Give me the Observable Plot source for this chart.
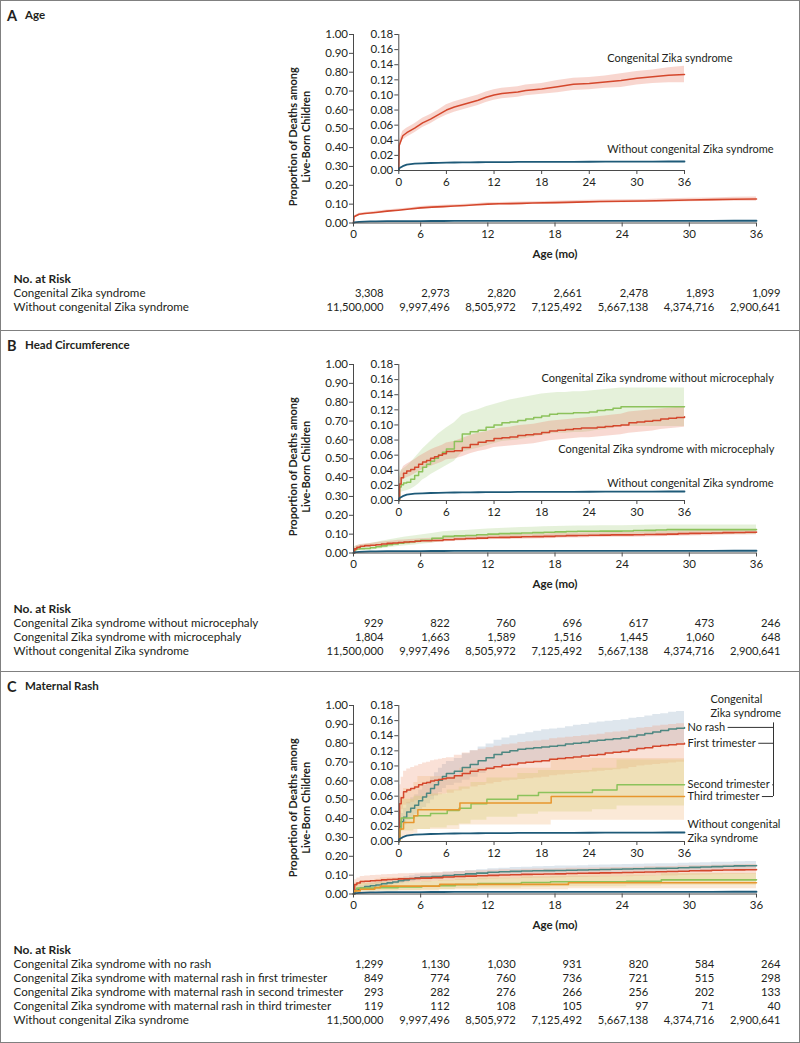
<!DOCTYPE html>
<html><head><meta charset="utf-8">
<script src="https://cdn.jsdelivr.net/npm/d3@7"></script>
<script src="https://cdn.jsdelivr.net/npm/@observablehq/plot@0.6"></script>
<style>
body{margin:0;background:#fff;font-family:Lato,sans-serif;color:#231f20;}
#page{position:relative;width:800px;height:1043px;overflow:hidden;background:#fff;}
.panel{position:absolute;left:0;width:800px;}
.frame{position:absolute;left:0;top:0;right:0;bottom:0;border:1.5px solid #808080;pointer-events:none;box-sizing:border-box;}
.hdr{position:absolute;left:7px;top:5px;white-space:nowrap;}
.hdr .l{font-size:14.5px;font-weight:bold;}
.hdr .t{font-size:11.5px;font-weight:bold;position:absolute;left:18px;top:3px;}
.layer{position:absolute;left:0;}
</style></head><body><div id="page"></div>
<script>
// ---------- tick labels ----------
const months = [0, 6, 12, 18, 24, 30, 36];
const mainTicks = [0, 0.1, 0.2, 0.3, 0.4, 0.5, 0.6, 0.7, 0.8, 0.9, 1.0];
const insetTicks = [0, 0.02, 0.04, 0.06, 0.08, 0.10, 0.12, 0.14, 0.16, 0.18];

// ---------- Panel A (age) ----------
const tA = [0, 0.05, 0.5, 1, 1.5, 2, 3, 4, 5, 6, 7, 8, 9, 10, 11, 12, 13, 14, 15, 16, 18, 20, 22, 24, 26, 28, 30, 32, 34, 36];
const czsAge   = [0, 0.033, 0.046, 0.050, 0.053, 0.056, 0.063, 0.068, 0.074, 0.080, 0.084, 0.087, 0.090, 0.093, 0.097, 0.100, 0.102, 0.103, 0.104, 0.106, 0.108, 0.111, 0.114, 0.115, 0.117, 0.119, 0.122, 0.124, 0.126, 0.127];
const czsAgeLo = [0, 0.028, 0.040, 0.044, 0.047, 0.050, 0.057, 0.062, 0.068, 0.073, 0.077, 0.080, 0.083, 0.086, 0.090, 0.093, 0.095, 0.096, 0.097, 0.099, 0.101, 0.103, 0.106, 0.107, 0.109, 0.110, 0.113, 0.115, 0.116, 0.116];
const czsAgeHi = [0, 0.038, 0.052, 0.056, 0.059, 0.062, 0.069, 0.074, 0.080, 0.087, 0.091, 0.094, 0.097, 0.100, 0.104, 0.107, 0.109, 0.110, 0.111, 0.113, 0.115, 0.119, 0.122, 0.123, 0.125, 0.128, 0.131, 0.133, 0.136, 0.138];
const noCzs    = [0, 0.003, 0.0057, 0.0077, 0.0085, 0.0090, 0.0095, 0.0099, 0.0102, 0.0104, 0.0106, 0.0107, 0.0108, 0.0109, 0.0110, 0.0111, 0.0112, 0.0112, 0.0113, 0.0113, 0.0114, 0.0115, 0.0115, 0.0116, 0.0117, 0.0117, 0.0118, 0.0118, 0.0119, 0.0119];

// ---------- common grid for B and C ----------
const tG = [0, 0.1, 0.3, 0.6, 1, 1.5, 2, 2.5, 3, 3.5, 4, 4.5, 5, 5.5, 6, 7, 8, 9, 10, 11, 12, 13, 14, 15, 16, 17, 18, 19, 20, 21, 22, 23, 24, 25, 26, 27, 28, 29, 30, 31, 32, 33, 34, 35, 36];

// ---------- Panel B (head circumference) ----------
const noMicro   = [0, 0.018, 0.021, 0.023, 0.024, 0.028, 0.033, 0.038, 0.044, 0.048, 0.052, 0.056, 0.060, 0.064, 0.068, 0.078, 0.088, 0.091, 0.093, 0.097, 0.100, 0.103, 0.104, 0.106, 0.108, 0.110, 0.112, 0.114, 0.115, 0.115, 0.116, 0.116, 0.117, 0.119, 0.120, 0.122, 0.124, 0.124, 0.124, 0.124, 0.124, 0.124, 0.124, 0.124, 0.124];
const noMicroLo = [0, 0.008, 0.011, 0.012, 0.013, 0.015, 0.018, 0.022, 0.027, 0.030, 0.034, 0.037, 0.040, 0.043, 0.046, 0.052, 0.064, 0.067, 0.069, 0.072, 0.075, 0.078, 0.079, 0.080, 0.082, 0.084, 0.086, 0.088, 0.089, 0.089, 0.090, 0.090, 0.091, 0.093, 0.094, 0.096, 0.098, 0.098, 0.098, 0.098, 0.098, 0.098, 0.098, 0.098, 0.098];
const noMicroHi = [0, 0.035, 0.040, 0.042, 0.045, 0.050, 0.056, 0.062, 0.068, 0.073, 0.078, 0.083, 0.088, 0.092, 0.096, 0.103, 0.113, 0.117, 0.120, 0.124, 0.127, 0.130, 0.133, 0.135, 0.137, 0.139, 0.141, 0.142, 0.143, 0.143, 0.144, 0.144, 0.145, 0.146, 0.147, 0.148, 0.149, 0.149, 0.149, 0.149, 0.149, 0.149, 0.149, 0.149, 0.149];
const micro     = [0, 0.022, 0.030, 0.036, 0.039, 0.041, 0.044, 0.048, 0.051, 0.053, 0.056, 0.058, 0.060, 0.062, 0.065, 0.066, 0.070, 0.074, 0.077, 0.079, 0.082, 0.083, 0.084, 0.086, 0.087, 0.088, 0.090, 0.092, 0.093, 0.094, 0.095, 0.096, 0.096, 0.097, 0.098, 0.099, 0.100, 0.103, 0.104, 0.105, 0.106, 0.108, 0.109, 0.110, 0.111];
const microLo   = [0, 0.015, 0.022, 0.028, 0.030, 0.032, 0.035, 0.038, 0.041, 0.043, 0.045, 0.047, 0.049, 0.051, 0.054, 0.055, 0.058, 0.062, 0.065, 0.067, 0.070, 0.071, 0.072, 0.073, 0.074, 0.075, 0.077, 0.079, 0.080, 0.081, 0.082, 0.083, 0.083, 0.084, 0.085, 0.086, 0.087, 0.089, 0.090, 0.091, 0.092, 0.094, 0.095, 0.096, 0.097];
const microHi   = [0, 0.030, 0.038, 0.045, 0.048, 0.051, 0.054, 0.058, 0.061, 0.064, 0.067, 0.069, 0.071, 0.073, 0.076, 0.078, 0.082, 0.086, 0.089, 0.091, 0.094, 0.096, 0.097, 0.099, 0.100, 0.101, 0.103, 0.105, 0.106, 0.107, 0.108, 0.109, 0.110, 0.111, 0.112, 0.113, 0.114, 0.117, 0.118, 0.119, 0.120, 0.121, 0.122, 0.123, 0.124];

// ---------- Panel C (maternal rash) ----------
const noRash    = [0, 0.020, 0.026, 0.032, 0.039, 0.044, 0.048, 0.054, 0.059, 0.064, 0.070, 0.075, 0.081, 0.086, 0.090, 0.093, 0.098, 0.102, 0.107, 0.111, 0.115, 0.118, 0.120, 0.122, 0.123, 0.124, 0.125, 0.126, 0.127, 0.129, 0.130, 0.131, 0.133, 0.134, 0.135, 0.136, 0.137, 0.139, 0.141, 0.143, 0.145, 0.147, 0.149, 0.150, 0.151];
const noRashLo  = [0, 0.013, 0.017, 0.022, 0.028, 0.032, 0.036, 0.041, 0.045, 0.050, 0.055, 0.060, 0.065, 0.070, 0.074, 0.077, 0.081, 0.085, 0.090, 0.094, 0.098, 0.100, 0.102, 0.104, 0.105, 0.106, 0.107, 0.108, 0.109, 0.110, 0.111, 0.112, 0.114, 0.115, 0.116, 0.117, 0.118, 0.120, 0.121, 0.123, 0.125, 0.127, 0.128, 0.129, 0.130];
const noRashHi  = [0, 0.030, 0.037, 0.044, 0.052, 0.058, 0.062, 0.068, 0.074, 0.079, 0.085, 0.091, 0.097, 0.102, 0.106, 0.110, 0.116, 0.120, 0.125, 0.129, 0.134, 0.137, 0.140, 0.142, 0.144, 0.146, 0.148, 0.149, 0.150, 0.152, 0.154, 0.155, 0.157, 0.158, 0.159, 0.160, 0.161, 0.163, 0.164, 0.166, 0.168, 0.169, 0.171, 0.172, 0.173];
const firstTri   = [0, 0.050, 0.058, 0.066, 0.068, 0.070, 0.072, 0.075, 0.077, 0.078, 0.080, 0.081, 0.082, 0.083, 0.084, 0.087, 0.090, 0.093, 0.095, 0.097, 0.099, 0.101, 0.102, 0.104, 0.105, 0.106, 0.107, 0.109, 0.110, 0.111, 0.112, 0.113, 0.114, 0.115, 0.117, 0.118, 0.119, 0.121, 0.123, 0.124, 0.126, 0.127, 0.128, 0.129, 0.130];
const firstTriLo = [0, 0.036, 0.042, 0.048, 0.050, 0.052, 0.054, 0.056, 0.058, 0.059, 0.060, 0.061, 0.062, 0.063, 0.064, 0.067, 0.069, 0.072, 0.074, 0.076, 0.078, 0.080, 0.081, 0.082, 0.083, 0.084, 0.085, 0.087, 0.088, 0.089, 0.090, 0.091, 0.092, 0.093, 0.094, 0.095, 0.096, 0.098, 0.100, 0.101, 0.102, 0.103, 0.104, 0.105, 0.106];
const firstTriHi = [0, 0.075, 0.085, 0.093, 0.096, 0.098, 0.100, 0.102, 0.104, 0.105, 0.107, 0.108, 0.109, 0.110, 0.111, 0.114, 0.117, 0.120, 0.122, 0.124, 0.126, 0.128, 0.129, 0.131, 0.132, 0.133, 0.134, 0.136, 0.137, 0.138, 0.139, 0.140, 0.141, 0.142, 0.144, 0.145, 0.146, 0.148, 0.150, 0.151, 0.153, 0.154, 0.155, 0.156, 0.157];
const tSecond    = [0, 0.1, 0.3, 1.9, 4.0, 6.1, 7.6, 9.1, 11.1, 15.0, 17.6, 24.4, 27.5, 36];
const secondTri  = [0, 0.016, 0.031, 0.034, 0.037, 0.041, 0.044, 0.050, 0.056, 0.061, 0.065, 0.068, 0.075, 0.075];
const secondTriLo= [0, 0.005, 0.014, 0.016, 0.018, 0.021, 0.023, 0.028, 0.032, 0.036, 0.039, 0.042, 0.047, 0.047];
const secondTriHi= [0, 0.040, 0.056, 0.060, 0.063, 0.068, 0.072, 0.078, 0.084, 0.090, 0.094, 0.097, 0.108, 0.108];
const tThird     = [0, 0.1, 0.6, 1.9, 2.4, 7.7, 19.2, 36];
const thirdTri   = [0, 0.0165, 0.025, 0.034, 0.042, 0.051, 0.0595, 0.0595];
const thirdTriLo = [0, 0.002, 0.007, 0.011, 0.016, 0.022, 0.028, 0.028];
const thirdTriHi = [0, 0.060, 0.070, 0.078, 0.086, 0.097, 0.110, 0.110];

// ---------- numbers at risk ----------
const riskNoCzs   = [11500000, 9997496, 8505972, 7125492, 5667138, 4374716, 2900641];
const riskCzs     = [3308, 2973, 2820, 2661, 2478, 1893, 1099];
const riskNoMicro = [929, 822, 760, 696, 617, 473, 246];
const riskMicro   = [1804, 1663, 1589, 1516, 1445, 1060, 648];
const riskNoRash  = [1299, 1130, 1030, 931, 820, 584, 264];
const riskFirst   = [849, 774, 760, 736, 721, 515, 298];
const riskSecond  = [293, 282, 276, 266, 256, 202, 133];
const riskThird   = [119, 112, 108, 105, 97, 71, 40];

// ---------- colours ----------
const RED = "#d4472c", BLUE = "#1e5a78", GREEN = "#8cc25b", TEAL = "#4d8781", ORANGE = "#e8962e";
const INK = "#231f20", AXIS = "#4a4a4a";

// ---------- layout ----------
const W = 800;
const MX0 = 353, MX1 = 756, MY1 = 34, MY0 = 222.5, MH = 272;
const IX0 = 398.3, IX1 = 684, IY1 = 34, IY0 = 170, IH = 200;
const FONT = "Lato, sans-serif";

function km(t, v, lo, hi) { return t.map((x, i) => ({t: x, v: v[i], lo: lo ? lo[i] : null, hi: hi ? hi[i] : null})); }

const panels = [
  {letter: "A", title: "Age", top: 0, height: 330,
   series: [
     {data: km(tA, czsAge, czsAgeLo, czsAgeHi), color: RED, band: "#e9806a", op: 0.32, curve: "linear"},
     {data: km(tA, noCzs), color: BLUE, curve: "linear", w: 1.8}
   ],
   labels: [{text: "Congenital Zika syndrome", t: 26.26, v: 0.148},
            {text: "Without congenital Zika syndrome", t: 26.26, v: 0.0278}],
   riskRows: ["Congenital Zika syndrome", "Without congenital Zika syndrome"],
   risk: [riskCzs, riskNoCzs]},
  {letter: "B", title: "Head Circumference", top: 330, height: 341,
   series: [
     {data: km(tG, noMicro, noMicroLo, noMicroHi), color: GREEN, band: "#a9d283", op: 0.3, curve: "step-after", bandCurve: "linear"},
     {data: km(tG, micro, microLo, microHi), color: RED, band: "#e9806a", op: 0.3, curve: "step-after", bandCurve: "linear"},
     {data: km(tA, noCzs), color: BLUE, curve: "linear", w: 1.8}
   ],
   labels: [{text: "Congenital Zika syndrome without microcephaly", t: 17.98, v: 0.161},
            {text: "Congenital Zika syndrome with microcephaly", t: 20.1, v: 0.068},
            {text: "Without congenital Zika syndrome", t: 26.26, v: 0.0227}],
   riskRows: ["Congenital Zika syndrome without microcephaly", "Congenital Zika syndrome with microcephaly", "Without congenital Zika syndrome"],
   risk: [riskNoMicro, riskMicro, riskNoCzs]},
  {letter: "C", title: "Maternal Rash", top: 671, height: 372,
   series: [
     {data: km(tG, noRash, noRashLo, noRashHi), color: TEAL, band: "#a9bdd0", op: 0.38, curve: "step-after", end: "No rash"},
     {data: km(tG, firstTri, firstTriLo, firstTriHi), color: RED, band: "#ee9a7c", op: 0.3, curve: "step-after", end: "First trimester"},
     {data: km(tSecond, secondTri, secondTriLo, secondTriHi), color: GREEN, band: "#c9d672", op: 0.32, curve: "step-after", end: "Second trimester"},
     {data: km(tThird, thirdTri, thirdTriLo, thirdTriHi), color: ORANGE, band: "#f2b57a", op: 0.3, curve: "step-after", end: "Third trimester"},
     {data: km(tA, noCzs), color: BLUE, curve: "linear", w: 1.8}
   ],
   labels: [],
   riskRows: ["Congenital Zika syndrome with no rash", "Congenital Zika syndrome with maternal rash in first trimester", "Congenital Zika syndrome with maternal rash in second trimester", "Congenital Zika syndrome with maternal rash in third trimester", "Without congenital Zika syndrome"],
   risk: [riskNoRash, riskFirst, riskSecond, riskThird, riskNoCzs]}
];

const baseStyle = {fontFamily: FONT, fontSize: "11px", color: INK, background: "transparent", overflow: "visible"};

function curveMarks(p, w) {
  const m = [];
  for (const s of p.series) if (s.band) m.push(Plot.areaY(s.data, {x: "t", y1: "lo", y2: "hi", fill: s.band, fillOpacity: s.op, curve: s.bandCurve || s.curve}));
  for (const s of p.series) m.push(Plot.line(s.data, {x: "t", y: "v", stroke: s.color, strokeWidth: s.w || w, curve: s.curve}));
  return m;
}

function axes(yTicks, yMax) {
  return [
    Plot.ruleX([0], {y1: 0, y2: yMax, stroke: AXIS, strokeWidth: 1}),
    Plot.ruleY([0], {x1: 0, x2: 36, stroke: AXIS, strokeWidth: 1}),
    Plot.axisX({ticks: months, tickSize: 4, tickPadding: 3, label: null, fontSize: 11.5, stroke: AXIS, fill: INK}),
    Plot.axisY({ticks: yTicks, tickFormat: d3.format(".2f"), tickSize: 4, tickPadding: 1.5, label: null, fontSize: 11.5, stroke: AXIS, fill: INK})
  ];
}

function mainChart(p) {
  return Plot.plot({
    width: W, height: MH, marginLeft: MX0, marginRight: W - MX1, marginTop: MY1, marginBottom: MH - MY0,
    style: baseStyle,
    x: {domain: [0, 36]}, y: {domain: [0, 1]},
    marks: [
      ...curveMarks(p, 1.6),
      ...axes(mainTicks, 1),
      Plot.text(["Proportion of Deaths among\nLive-Born Children"], {text: d => d, frameAnchor: "left", textAnchor: "middle", rotate: -90, dx: -54.5, dy: 8, fontWeight: "bold", fontSize: 11, lineHeight: 1.2}),
      Plot.text(["Age (mo)"], {text: d => d, frameAnchor: "bottom", textAnchor: "middle", dy: 35, fontWeight: "bold", fontSize: 11.5})
    ]
  });
}

const measure = (() => { const c = document.createElement("canvas").getContext("2d"); c.font = "11px Lato"; return s => c.measureText(s).width; })();

function insetChart(p) {
  const kx = (IX1 - IX0) / 36;
  const marks = [
    ...curveMarks(p, 1.5),
    ...axes(insetTicks, 0.18),
    Plot.text(p.labels, {x: "t", y: "v", text: "text", textAnchor: "start", fontSize: 11})
  ];
  const ends = p.series.filter(s => s.end).map(s => ({text: s.end, v: s.data[s.data.length - 1].v}));
  if (ends.length) {
    const bx = 36 + 89 / kx;
    marks.push(
      Plot.text(ends, {x: 36, y: "v", dx: 3, text: "text", textAnchor: "start", fontSize: 11}),
      Plot.text(["Without congenital\nZika syndrome"], {text: d => d, x: 36, y: noCzs[noCzs.length - 1], dx: 3, dy: -2, textAnchor: "start", fontSize: 11, lineHeight: 1.27}),
      Plot.text(["Congenital\nZika syndrome"], {text: d => d, x: 36, y: 0.18, dx: 26, textAnchor: "start", fontSize: 11, lineHeight: 1.27}),
      Plot.ruleY(ends, {y: "v", x1: d => 36 + (6 + measure(d.text)) / kx, x2: bx, stroke: "#333", strokeWidth: 1}),
      Plot.ruleX([bx], {y1: ends[ends.length - 1].v, y2: 0.157, stroke: "#333", strokeWidth: 1})
    );
  }
  return Plot.plot({
    width: W, height: IH, marginLeft: IX0, marginRight: W - IX1, marginTop: IY1, marginBottom: IH - IY0,
    style: baseStyle,
    x: {domain: [0, 36]}, y: {domain: [0, 0.18]},
    marks
  });
}

function riskTable(p) {
  const n = p.riskRows.length;
  const cells = [];
  p.risk.forEach((row, r) => row.forEach((val, c) => cells.push({t: months[c], row: r + 1, n: val})));
  const rows = p.riskRows.map((label, i) => ({label, row: i + 1}));
  const h = 19 + 14 * n + 8;
  return Plot.plot({
    width: W, height: h, marginLeft: 383, marginRight: 20, marginTop: 19, marginBottom: 8,
    style: baseStyle,
    x: {domain: [0, 36], axis: null},
    y: {type: "linear", domain: [0, n], range: [19, 19 + 14 * n], axis: null},
    marks: [
      Plot.text(["No. at Risk"], {text: d => d, y: 0, frameAnchor: "left", dx: -370, textAnchor: "start", fontWeight: "bold", fontSize: 12}),
      Plot.text(rows, {y: "row", text: "label", frameAnchor: "left", dx: -370, textAnchor: "start", fontSize: 11.6}),
      Plot.text(cells, {x: "t", y: "row", text: d => d3.format(",")(d.n), textAnchor: "end", fontSize: 11.2})
    ]
  });
}

const page = document.getElementById("page");
for (const p of panels) {
  const div = document.createElement("div");
  div.className = "panel";
  div.style.top = p.top + "px";
  div.style.height = p.height + "px";
  const frame = document.createElement("div");
  frame.className = "frame";
  if (p.letter !== "C") frame.style.borderBottom = "none";
  const hdr = document.createElement("div");
  hdr.className = "hdr";
  hdr.innerHTML = `<span class="l">${p.letter}</span><span class="t">${p.title}</span>`;
  const l1 = document.createElement("div"); l1.className = "layer"; l1.style.top = "0px"; l1.appendChild(mainChart(p));
  const l2 = document.createElement("div"); l2.className = "layer"; l2.style.top = "0px"; l2.appendChild(insetChart(p));
  const l3 = document.createElement("div"); l3.className = "layer"; l3.style.top = "260px"; l3.appendChild(riskTable(p));
  div.append(l1, l2, l3, hdr, frame);
  page.appendChild(div);
}
</script></body></html>
